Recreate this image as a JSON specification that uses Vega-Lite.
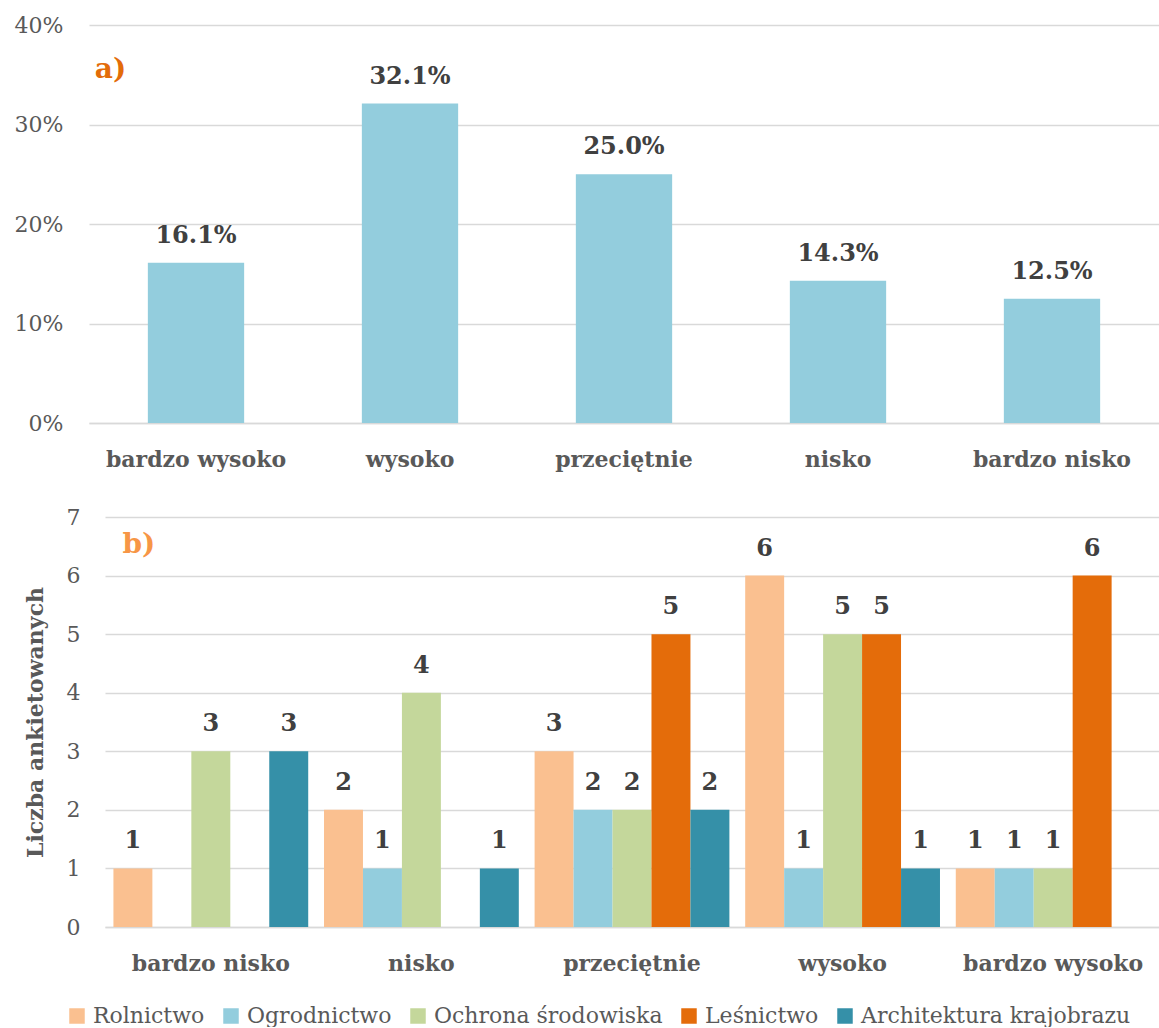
{
  "$schema": "https://vega.github.io/schema/vega-lite/v6.json",
  "background": "white",
  "padding": {"left": 14, "top": 14, "right": 1, "bottom": 0},
  "config": {
    "font": "DejaVu Serif",
    "view": {"stroke": null},
    "axis": {"labelColor": "#595959", "ticks": false, "domain": false, "gridColor": "#D9D9D9", "gridWidth": 1.5, "titleColor": "#595959"},
    "axisX": {"grid": false, "domain": true, "domainColor": "#D9D9D9", "domainWidth": 1.5, "labelFontWeight": "bold", "labelFontSize": 22, "labelPadding": 26, "labelAngle": 0, "labelLimit": 0},
    "axisY": {"labelFontSize": 22, "grid": true}
  },
  "datasets": {
    "pct": [
      {"ocena": "bardzo wysoko", "udzial": 0.161},
      {"ocena": "wysoko", "udzial": 0.321},
      {"ocena": "przeciętnie", "udzial": 0.25},
      {"ocena": "nisko", "udzial": 0.143},
      {"ocena": "bardzo nisko", "udzial": 0.125}
    ],
    "cnt": [
      {"ocena": "bardzo nisko", "kierunek": "Rolnictwo", "liczba": 1},
      {"ocena": "bardzo nisko", "kierunek": "Ogrodnictwo", "liczba": 0},
      {"ocena": "bardzo nisko", "kierunek": "Ochrona środowiska", "liczba": 3},
      {"ocena": "bardzo nisko", "kierunek": "Leśnictwo", "liczba": 0},
      {"ocena": "bardzo nisko", "kierunek": "Architektura krajobrazu", "liczba": 3},
      {"ocena": "nisko", "kierunek": "Rolnictwo", "liczba": 2},
      {"ocena": "nisko", "kierunek": "Ogrodnictwo", "liczba": 1},
      {"ocena": "nisko", "kierunek": "Ochrona środowiska", "liczba": 4},
      {"ocena": "nisko", "kierunek": "Leśnictwo", "liczba": 0},
      {"ocena": "nisko", "kierunek": "Architektura krajobrazu", "liczba": 1},
      {"ocena": "przeciętnie", "kierunek": "Rolnictwo", "liczba": 3},
      {"ocena": "przeciętnie", "kierunek": "Ogrodnictwo", "liczba": 2},
      {"ocena": "przeciętnie", "kierunek": "Ochrona środowiska", "liczba": 2},
      {"ocena": "przeciętnie", "kierunek": "Leśnictwo", "liczba": 5},
      {"ocena": "przeciętnie", "kierunek": "Architektura krajobrazu", "liczba": 2},
      {"ocena": "wysoko", "kierunek": "Rolnictwo", "liczba": 6},
      {"ocena": "wysoko", "kierunek": "Ogrodnictwo", "liczba": 1},
      {"ocena": "wysoko", "kierunek": "Ochrona środowiska", "liczba": 5},
      {"ocena": "wysoko", "kierunek": "Leśnictwo", "liczba": 5},
      {"ocena": "wysoko", "kierunek": "Architektura krajobrazu", "liczba": 1},
      {"ocena": "bardzo wysoko", "kierunek": "Rolnictwo", "liczba": 1},
      {"ocena": "bardzo wysoko", "kierunek": "Ogrodnictwo", "liczba": 1},
      {"ocena": "bardzo wysoko", "kierunek": "Ochrona środowiska", "liczba": 1},
      {"ocena": "bardzo wysoko", "kierunek": "Leśnictwo", "liczba": 6},
      {"ocena": "bardzo wysoko", "kierunek": "Architektura krajobrazu", "liczba": 0}
    ]
  },
  "spacing": 36,
  "vconcat": [
    {
      "width": 1070,
      "height": 398,
      "layer": [
        {
          "data": {"name": "pct"},
          "mark": {"type": "bar", "color": "#93CDDD"},
          "encoding": {
            "x": {"field": "ocena", "type": "nominal", "sort": null, "title": null, "scale": {"paddingInner": 0.55, "paddingOuter": 0.275}},
            "y": {"field": "udzial", "type": "quantitative", "title": null, "scale": {"domain": [0, 0.4]}, "axis": {"format": ".0%", "values": [0, 0.1, 0.2, 0.3, 0.4], "labelPadding": 26}}
          }
        },
        {
          "data": {"name": "pct"},
          "mark": {"type": "text", "baseline": "bottom", "dy": -15, "fontWeight": "bold", "fontSize": 24, "color": "#404040"},
          "encoding": {
            "x": {"field": "ocena", "type": "nominal", "sort": null},
            "y": {"field": "udzial", "type": "quantitative"},
            "text": {"field": "udzial", "type": "quantitative", "format": ".1%"}
          }
        },
        {
          "data": {"values": [{"etykieta": "a)", "ocena": "bardzo wysoko", "poz": 0.355}]},
          "mark": {"type": "text", "align": "left", "baseline": "middle", "dx": -53, "fontWeight": "bold", "fontSize": 28, "color": "#E36C09"},
          "encoding": {
            "x": {"field": "ocena", "type": "nominal", "sort": null, "bandPosition": 0},
            "y": {"field": "poz", "type": "quantitative"},
            "text": {"field": "etykieta"}
          }
        }
      ]
    },
    {
      "width": 1070,
      "height": 410,
      "layer": [
        {
          "data": {"name": "cnt"},
          "mark": {"type": "bar"},
          "encoding": {
            "x": {"field": "ocena", "type": "nominal", "sort": null, "title": null, "scale": {"range": [16, 1070], "paddingInner": 0.075, "paddingOuter": 0.04}},
            "xOffset": {"field": "kierunek", "type": "nominal", "sort": null, "scale": {"paddingInner": 0, "paddingOuter": 0}},
            "y": {"field": "liczba", "type": "quantitative", "title": "Liczba ankietowanych", "scale": {"domain": [0, 7]}, "axis": {"values": [0, 1, 2, 3, 4, 5, 6, 7], "format": "d", "labelPadding": 9, "titleFontSize": 22, "titleFontWeight": "bold", "titleColor": "#595959", "titlePadding": 19}},
            "color": {
              "field": "kierunek", "type": "nominal", "sort": null,
              "scale": {"domain": ["Rolnictwo", "Ogrodnictwo", "Ochrona środowiska", "Leśnictwo", "Architektura krajobrazu"], "range": ["#FAC090", "#93CDDD", "#C4D79B", "#E46C0A", "#3590A8"]},
              "legend": {"orient": "none", "legendX": -23, "legendY": 980, "direction": "horizontal", "title": null, "symbolType": "square", "symbolSize": 240, "symbolStrokeWidth": 0, "labelFontSize": 22, "labelColor": "#595959", "labelLimit": 0, "columnPadding": 15, "labelOffset": 5}
            }
          }
        },
        {
          "data": {"name": "cnt"},
          "transform": [{"filter": "datum.liczba > 0"}],
          "mark": {"type": "text", "baseline": "bottom", "dy": -15, "fontWeight": "bold", "fontSize": 24, "color": "#404040"},
          "encoding": {
            "x": {"field": "ocena", "type": "nominal", "sort": null},
            "xOffset": {"field": "kierunek", "type": "nominal", "sort": null},
            "y": {"field": "liczba", "type": "quantitative"},
            "text": {"field": "liczba", "type": "quantitative"}
          }
        },
        {
          "data": {"values": [{"etykieta": "b)", "ocena": "bardzo nisko", "poz": 6.52}]},
          "mark": {"type": "text", "align": "left", "baseline": "middle", "dx": 9, "fontWeight": "bold", "fontSize": 28, "color": "#F79646"},
          "encoding": {
            "x": {"field": "ocena", "type": "nominal", "sort": null, "bandPosition": 0},
            "y": {"field": "poz", "type": "quantitative"},
            "text": {"field": "etykieta"}
          }
        }
      ]
    }
  ]
}
